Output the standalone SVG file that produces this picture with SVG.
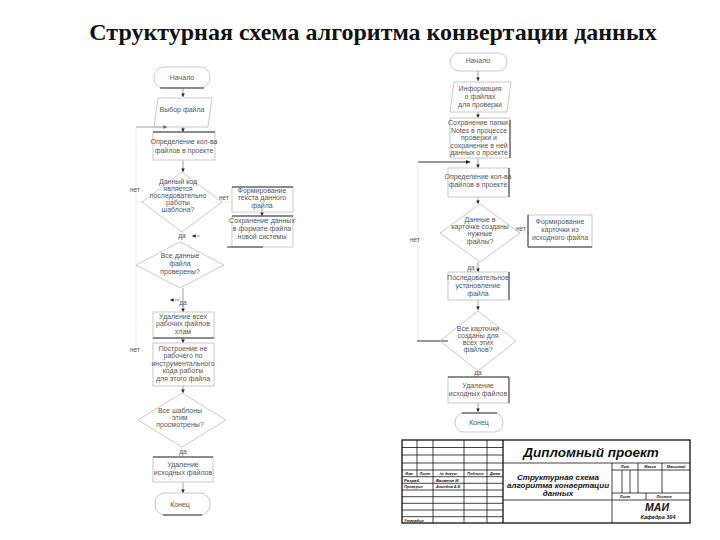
<svg xmlns="http://www.w3.org/2000/svg" width="720" height="540" viewBox="0 0 720 540">
<style>
.s{fill:none;stroke:#bbb;stroke-width:0.8}
.d{fill:none;stroke:#333;stroke-width:1}
.c{fill:none;stroke:#888;stroke-width:0.8}
.f{fill:none;stroke:#ddd;stroke-width:0.6}
.t{font-family:"Liberation Sans",Arial,sans-serif;font-size:7px;fill:#555;text-anchor:middle}
.l{font-family:"Liberation Sans",Arial,sans-serif;font-size:6.5px;fill:#555;text-anchor:middle}
.k{fill:none;stroke:#111;stroke-width:0.8}
.K{fill:none;stroke:#111;stroke-width:1.3}
.g{font-family:"Liberation Sans",Arial,sans-serif;font-style:italic;font-weight:bold;fill:#111}
.h{font-size:3.8px}
</style>
<defs>
<marker id="a" viewBox="0 0 6 6" refX="6" refY="3" markerWidth="4.5" markerHeight="4.5" orient="auto"><path d="M0,0 L6,3 L0,6 z" fill="#222"/></marker>
</defs>
<rect width="720" height="540" fill="#fff"/>
<text x="373" y="40" font-family="'Liberation Serif','Times New Roman',serif" font-weight="bold" font-size="24" text-anchor="middle" fill="#111">Структурная схема алгоритма конвертации данных</text>

<g id="connectors">
<line class="c" x1="183" y1="88" x2="183" y2="97" marker-end="url(#a)"/>
<line class="c" x1="136" y1="127" x2="167" y2="127" marker-end="url(#a)"/>
<line class="f" x1="136" y1="127" x2="136" y2="352"/>
<line class="c" x1="183" y1="127" x2="183" y2="132" marker-end="url(#a)"/>
<line class="c" x1="183" y1="160" x2="183" y2="172" marker-end="url(#a)"/>
<line class="f" x1="142" y1="202" x2="136" y2="202"/>
<line class="f" x1="222" y1="202" x2="232" y2="202"/>
<line class="c" x1="262" y1="208" x2="262" y2="216" marker-end="url(#a)"/>
<line class="c" x1="200" y1="236" x2="192" y2="236" marker-end="url(#a)"/>
<line class="f" x1="182" y1="232" x2="182" y2="242"/>
<line class="c" x1="180" y1="300" x2="170" y2="300" marker-end="url(#a)"/>
<line class="c" x1="183" y1="288" x2="183" y2="312" marker-end="url(#a)"/>
<line class="c" x1="183" y1="338" x2="183" y2="343" marker-end="url(#a)"/>
<line class="c" x1="183" y1="386" x2="183" y2="393" marker-end="url(#a)"/>
<line class="f" x1="182" y1="447" x2="182" y2="457"/>
<line class="c" x1="183" y1="482" x2="183" y2="493" marker-end="url(#a)"/>

<line class="c" x1="478" y1="71" x2="478" y2="81" marker-end="url(#a)"/>
<line class="c" x1="478" y1="112" x2="478" y2="118" marker-end="url(#a)"/>
<line class="d" x1="418" y1="162" x2="470" y2="162" marker-end="url(#a)"/>
<line class="f" x1="418" y1="162" x2="418" y2="341"/>
<line class="c" x1="478" y1="158" x2="478" y2="168" marker-end="url(#a)"/>
<line class="c" x1="478" y1="197" x2="478" y2="204" marker-end="url(#a)"/>
<line class="f" x1="520" y1="233" x2="528" y2="233"/>
<line class="c" x1="478" y1="262" x2="478" y2="272" marker-end="url(#a)"/>
<line class="c" x1="478" y1="300" x2="478" y2="310" marker-end="url(#a)"/>
<line class="d" x1="417" y1="341" x2="448" y2="341"/>
<line class="f" x1="478" y1="371" x2="478" y2="377"/>
<line class="c" x1="478" y1="403" x2="478" y2="412" marker-end="url(#a)"/>
</g>

<g id="L1"><rect class="s" x="154" y="67" width="56" height="21" rx="10"/><line class="d" x1="160" y1="88" x2="204" y2="88"/><text class="t" x="182" y="80">Начало</text></g>
<g id="L2"><polygon class="s" points="158,98 212,98 208,127 154,127"/><text class="t" x="182" y="112">Выбор файла</text></g>
<g id="L3"><rect class="s" x="153" y="132" width="62" height="28"/><line class="d" x1="153" y1="132" x2="215" y2="132"/><text class="t" x="184" y="144">Определение кол-ва</text><text class="t" x="184" y="153">файлов в проекте</text></g>
<g id="L4"><polygon class="s" points="182,172 222,202 182,232 142,202"/><text class="t" x="178" y="184">Данный код</text><text class="t" x="178" y="191">является</text><text class="t" x="178" y="198">последовательно</text><text class="t" x="178" y="205">работы</text><text class="t" x="178" y="212">шаблона?</text></g>
<g id="L5"><rect class="s" x="232" y="187" width="61" height="25"/><line class="d" x1="232" y1="187" x2="293" y2="187"/><text class="t" x="262" y="193">Формирование</text><text class="t" x="262" y="200">текста данного</text><text class="t" x="262" y="208">файла</text></g>
<g id="L6"><rect class="s" x="232" y="216" width="61" height="31"/><line class="d" x1="232" y1="216" x2="293" y2="216"/><line class="d" x1="227" y1="247" x2="263" y2="247"/><text class="t" x="262" y="223">Сохранение данных</text><text class="t" x="262" y="231">в формате файла</text><text class="t" x="262" y="239">новой системы</text></g>
<g id="L7"><polygon class="s" points="180,242 224,265 180,288 136,265"/><text class="t" x="180" y="258">Все данные</text><text class="t" x="180" y="266">файла</text><text class="t" x="180" y="274">проверены?</text></g>
<g id="L8"><rect class="s" x="153" y="312" width="61" height="26"/><line class="d" x1="153" y1="338" x2="214" y2="338"/><text class="t" x="183" y="319">Удаление всех</text><text class="t" x="183" y="326">рабочих файлов</text><text class="t" x="183" y="334">хлам</text></g>
<g id="L9"><rect class="s" x="153" y="343" width="61" height="43"/><text class="t" x="183" y="351">Построение не</text><text class="t" x="183" y="358">рабочего по</text><text class="t" x="183" y="366">инструментального</text><text class="t" x="183" y="373">кода работы</text><text class="t" x="183" y="381">для этого файла</text></g>
<g id="L10"><polygon class="s" points="182,393 226,420 182,447 138,420"/><text class="t" x="180" y="413">Все шаблоны</text><text class="t" x="180" y="420">этим</text><text class="t" x="180" y="427">просмотрены?</text></g>
<g id="L11"><rect class="s" x="153" y="457" width="60" height="25"/><line class="d" x1="153" y1="457" x2="213" y2="457"/><text class="t" x="183" y="467">Удаление</text><text class="t" x="183" y="475">исходных файлов</text></g>
<g id="L12"><rect class="s" x="155" y="493" width="55" height="22" rx="10"/><line class="d" x1="163" y1="515" x2="202" y2="515"/><text class="t" x="180" y="507">Конец</text></g>

<g id="R1"><rect class="s" x="450" y="53" width="57" height="18" rx="9"/><text class="t" x="478" y="63">Начало</text></g>
<g id="R2"><polygon class="s" points="454,82 511,82 507,112 450,112"/><text class="t" x="480" y="91">Информация</text><text class="t" x="480" y="99">о файлах</text><text class="t" x="480" y="107">для проверки</text></g>
<g id="R3"><rect class="s" x="450" y="118" width="60" height="40"/><line class="d" x1="510" y1="120" x2="510" y2="158"/><text class="t" x="479" y="125">Сохранение папки.</text><text class="t" x="479" y="132.5">Notes в процессе</text><text class="t" x="479" y="140">проверки и</text><text class="t" x="479" y="147.5">сохранение в ней</text><text class="t" x="479" y="155">данных о проекте</text></g>
<g id="R4"><rect class="s" x="448" y="168" width="61" height="29"/><line class="d" x1="509" y1="168" x2="509" y2="197"/><text class="t" x="478" y="179">Определение кол-ва</text><text class="t" x="478" y="187">файлов в проекте</text></g>
<g id="R5"><polygon class="s" points="480,204 520,233 480,262 440,233"/><text class="t" x="480" y="222">Данные в</text><text class="t" x="480" y="229">карточке созданы</text><text class="t" x="480" y="236">нужные</text><text class="t" x="480" y="244">файлы?</text></g>
<g id="R6"><rect class="s" x="528" y="215" width="64" height="32"/><line class="d" x1="528" y1="215" x2="528" y2="247"/><line class="d" x1="528" y1="247" x2="592" y2="247"/><text class="t" x="560" y="224">Формирование</text><text class="t" x="560" y="232">карточки из</text><text class="t" x="560" y="240">исходного файла</text></g>
<g id="R7"><rect class="s" x="448" y="272" width="61" height="28"/><line class="d" x1="509" y1="272" x2="509" y2="300"/><text class="t" x="478" y="280">Последовательное</text><text class="t" x="478" y="288">установление</text><text class="t" x="478" y="296">файла</text></g>
<g id="R8"><polygon class="s" points="478,311 516,341 478,371 440,341"/><text class="t" x="478" y="331">Все карточки</text><text class="t" x="478" y="338">созданы для</text><text class="t" x="478" y="345">всех этих</text><text class="t" x="478" y="352">файлов?</text></g>
<g id="R9"><rect class="s" x="448" y="377" width="61" height="26"/><line class="d" x1="448" y1="377" x2="509" y2="377"/><line class="d" x1="509" y1="377" x2="509" y2="403"/><text class="t" x="478" y="388">Удаление</text><text class="t" x="478" y="396">исходных файлов</text></g>
<g id="R10"><rect class="s" x="455" y="413" width="48" height="19" rx="9"/><line class="d" x1="462" y1="413" x2="497" y2="413"/><text class="t" x="479" y="425">Конец</text></g>

<g id="labels">
<text class="l" x="135" y="192">нет</text>
<text class="l" x="224" y="200">нет</text>
<text class="l" x="182" y="238">да</text>
<text class="l" x="183" y="305">да</text>
<text class="l" x="135" y="352">нет</text>
<text class="l" x="183" y="454">да</text>
<text class="l" x="521" y="231">нет</text>
<text class="l" x="415" y="242">нет</text>
<text class="l" x="471" y="270">да</text>
<text class="l" x="478" y="375">да</text>
</g>

<g id="stamp">
<rect class="K" x="402" y="440" width="288" height="83"/>
<line class="K" x1="503" y1="440" x2="503" y2="523"/>
<g class="k">
<line x1="402" y1="447.5" x2="503" y2="447.5"/>
<line x1="402" y1="455" x2="503" y2="455"/>
<line x1="402" y1="463" x2="690" y2="463"/>
<line x1="402" y1="470" x2="503" y2="470"/>
<line x1="402" y1="476.7" x2="503" y2="476.7"/>
<line x1="402" y1="483.3" x2="503" y2="483.3"/>
<line x1="402" y1="490" x2="503" y2="490"/>
<line x1="402" y1="496.7" x2="503" y2="496.7"/>
<line x1="402" y1="503.3" x2="503" y2="503.3"/>
<line x1="402" y1="510" x2="503" y2="510"/>
<line x1="402" y1="516.7" x2="503" y2="516.7"/>
<line x1="417" y1="440" x2="417" y2="476.7"/>
<line x1="433" y1="440" x2="433" y2="523"/>
<line x1="464" y1="440" x2="464" y2="523"/>
<line x1="487" y1="440" x2="487" y2="523"/>
<line x1="503" y1="500" x2="690" y2="500"/>
<line x1="612" y1="463" x2="612" y2="523"/>
<line x1="612" y1="470" x2="690" y2="470"/>
<line x1="612" y1="493" x2="690" y2="493"/>
<line x1="622" y1="470" x2="622" y2="493"/>
<line x1="630" y1="470" x2="630" y2="493"/>
<line x1="638" y1="463" x2="638" y2="493"/>
<line x1="662" y1="463" x2="662" y2="493"/>
<line x1="646" y1="493" x2="646" y2="500"/>
</g>
<text class="g" x="591" y="457" font-size="13.5" text-anchor="middle">Дипломный проект</text>
<text class="g" x="558" y="480" font-size="8" text-anchor="middle" font-weight="normal">Структурная схема</text>
<text class="g" x="558" y="488" font-size="8" text-anchor="middle" font-weight="normal">алгоритма конвертации</text>
<text class="g" x="558" y="496" font-size="8" text-anchor="middle" font-weight="normal">данных</text>
<text class="g h" x="625" y="468" text-anchor="middle">Лит</text>
<text class="g h" x="650" y="468" text-anchor="middle">Масса</text>
<text class="g h" x="676" y="468" text-anchor="middle">Масштаб</text>
<text class="g h" x="625" y="498" text-anchor="middle">Лист</text>
<text class="g h" x="664" y="498" text-anchor="middle">Листов</text>
<text class="g" x="657" y="511" font-size="10.5" text-anchor="middle">МАИ</text>
<text class="g" x="658" y="519" font-size="5.5" text-anchor="middle" font-style="normal">Кафедра 304</text>
<text class="g h" x="409.5" y="475" text-anchor="middle">Изм.</text>
<text class="g h" x="425" y="475" text-anchor="middle">Лист</text>
<text class="g h" x="448.5" y="475" text-anchor="middle">№ докум.</text>
<text class="g h" x="475.5" y="475" text-anchor="middle">Подпись</text>
<text class="g h" x="495" y="475" text-anchor="middle">Дата</text>
<text class="g" x="404" y="481.5" font-size="4.3" font-style="normal">Разраб.</text>
<text class="g" x="436" y="481.5" font-size="4.3" font-style="normal">Ваганов И.</text>
<text class="g h" x="404" y="488.2">Проверил</text>
<text class="g h" x="436" y="488.2">Ахмедов А.Е.</text>
<text class="g h" x="404" y="521.5">Утвердил</text>
</g>
</svg>
